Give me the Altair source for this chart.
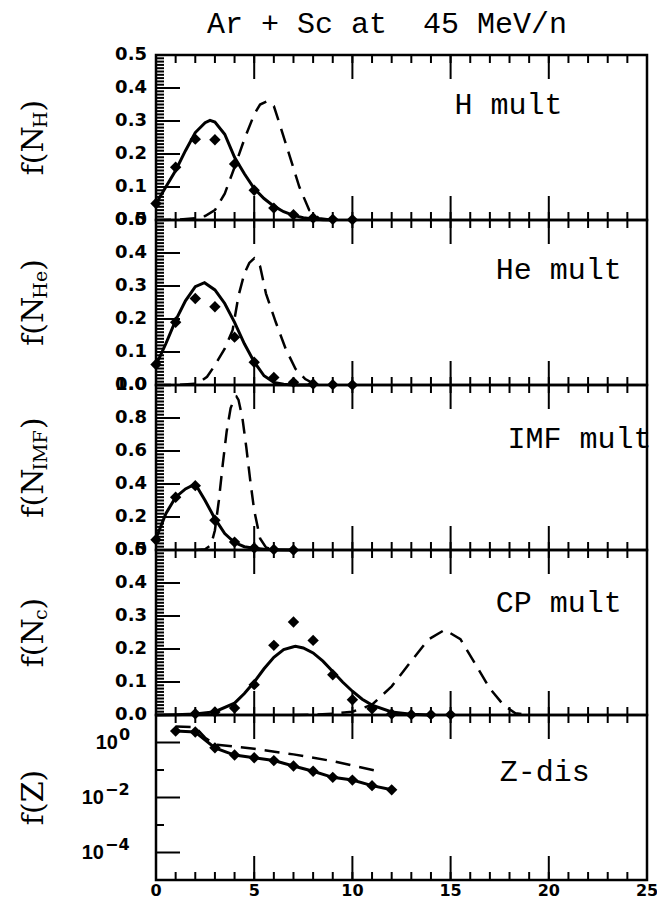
import altair as alt
import pandas as pd

W, H = 491, 165
XDOM = [0, 25]

# ---------------- data ----------------
# H multiplicity
H_PTS_X = [0, 1, 2, 3, 4, 5, 6, 7, 8, 9, 10]
H_PTS_Y = [0.05, 0.16, 0.245, 0.243, 0.17, 0.09, 0.036, 0.016, 0.006, 0.002, 0.001]
H_SOL_X = [0, 0.5, 1, 1.5, 2, 2.5, 2.75, 3, 3.5, 4, 4.5, 5, 5.5, 6, 6.5, 7, 7.5, 8, 8.5, 9]
H_SOL_Y = [0.05, 0.10, 0.15, 0.21, 0.265, 0.295, 0.302, 0.297, 0.26, 0.19, 0.14, 0.095,
           0.065, 0.042, 0.025, 0.014, 0.007, 0.003, 0.001, 0.0]
H_DSH_X = [0, 1, 2, 2.5, 3, 3.5, 4, 4.5, 5, 5.3, 5.65, 6, 6.3, 6.8, 7.3, 7.8, 8.3, 9]
H_DSH_Y = [0, 0.001, 0.005, 0.012, 0.03, 0.08, 0.16, 0.245, 0.32, 0.35, 0.36, 0.345,
           0.29, 0.195, 0.10, 0.03, 0.005, 0]

# He multiplicity
HE_PTS_X = [0, 1, 2, 3, 4, 5, 6, 7, 8, 9, 10]
HE_PTS_Y = [0.062, 0.19, 0.262, 0.237, 0.145, 0.069, 0.023, 0.008, 0.003, 0.001, 0.0]
HE_SOL_X = [0, 0.5, 1, 1.5, 2, 2.47, 3, 3.5, 4, 4.5, 5, 5.5, 6, 6.5, 7, 8]
HE_SOL_Y = [0.06, 0.125, 0.196, 0.255, 0.298, 0.31, 0.288, 0.247, 0.19, 0.125, 0.07,
            0.028, 0.008, 0.002, 0.0, 0.0]
HE_DSH_X = [0, 1, 2, 2.2, 2.6, 3, 3.5, 3.9, 4.2, 4.5, 4.75, 5.0, 5.3, 5.6, 6.1, 6.6,
            7.1, 7.6, 8, 8.5]
HE_DSH_Y = [0, 0, 0.004, 0.008, 0.025, 0.06, 0.11, 0.166, 0.27, 0.338, 0.37, 0.384,
            0.36, 0.277, 0.19, 0.11, 0.049, 0.018, 0.005, 0]

# IMF multiplicity
IMF_PTS_X = [0, 1, 2, 3, 4, 5, 6, 7]
IMF_PTS_Y = [0.062, 0.32, 0.39, 0.18, 0.048, 0.012, 0.003, 0.0]
IMF_SOL_X = [0, 0.5, 1, 1.5, 2, 2.5, 3, 3.5, 4, 4.5, 5, 5.5, 6, 7]
IMF_SOL_Y = [0.07, 0.22, 0.32, 0.37, 0.40, 0.30, 0.19, 0.10, 0.045, 0.02, 0.01, 0.004,
             0.002, 0.0]
IMF_DSH_X = [2, 2.5, 2.8, 3.0, 3.2, 3.4, 3.6, 3.8, 4.0, 4.1, 4.2, 4.4, 4.6, 4.8, 5.0,
             5.3, 5.6, 6, 7]
IMF_DSH_Y = [0, 0.005, 0.03, 0.12, 0.30, 0.52, 0.72, 0.86, 0.92, 0.93, 0.91, 0.80,
             0.62, 0.42, 0.24, 0.07, 0.015, 0, 0]

# charged-particle multiplicity
CP_PTS_X = [2, 3, 4, 5, 6, 7, 8, 9, 10, 11, 12, 13, 14, 15]
CP_PTS_Y = [0.004, 0.009, 0.021, 0.092, 0.211, 0.282, 0.226, 0.122, 0.046, 0.019,
            0.003, 0.001, 0.001, 0.001]
CP_SOL_X = [0, 1, 2, 3, 4, 4.5, 5, 5.5, 6, 6.5, 7, 7.1, 7.5, 8, 8.5, 9, 9.5, 10, 10.5,
            11, 12, 13, 14]
CP_SOL_Y = [0, 0.001, 0.003, 0.01, 0.036, 0.065, 0.10, 0.14, 0.175, 0.198, 0.207, 0.208,
            0.203, 0.188, 0.163, 0.132, 0.10, 0.072, 0.048, 0.03, 0.009, 0.002, 0]
CP_DSH_X = [7, 8, 9, 10, 11, 12, 12.85, 13.85, 14.7, 15.5, 16.3, 17, 17.7, 18.3, 19]
CP_DSH_Y = [0, 0.001, 0.004, 0.01, 0.031, 0.087, 0.152, 0.228, 0.258, 0.23, 0.15, 0.08,
            0.03, 0.005, 0]

# Z distribution (log)
Z_PTS_X = [1, 2, 3, 4, 5, 6, 7, 8, 9, 10, 11, 12]
Z_PTS_Y = [2.6, 2.4, 0.64, 0.35, 0.28, 0.22, 0.14, 0.09, 0.054, 0.043, 0.027, 0.019]
Z_DSH_X = [1, 2, 2.5, 3, 5, 7, 9, 11.5]
Z_DSH_Y = [3.8, 3.6, 1.5, 0.85, 0.59, 0.37, 0.21, 0.085]

TITLE = "Ar + Sc at \u00a045 MeV/n"
LABELS = ["H mult", "He mult", "IMF mult", "CP mult", "Z-dis"]
LABEL_X = [15.2, 17.3, 17.9, 17.3, 17.5]
LABEL_Y = [0.35, 0.348, 0.675, 0.34, 0.083]
YSUBS = ["H", "He", "IMF", "c", ""]

# tick positions and tick labels
X_MAJOR = [0, 5, 10, 15, 20, 25]
X_MINOR = list(range(0, 26))
X_LABELS = ["0", "5", "10", "15", "20", "25"]
HALF_VALS = [0.0, 0.1, 0.2, 0.3, 0.4, 0.5]
HALF_LABELS = ["0.0", "0.1", "0.2", "0.3", "0.4", "0.5"]
ONE_VALS = [0.0, 0.2, 0.4, 0.6, 0.8, 1.0]
ONE_LABELS = ["0.0", "0.2", "0.4", "0.6", "0.8", "1.0"]
LOG_MAJOR = [1, 0.01, 0.0001]
LOG_EXP = ["0", "\u22122", "\u22124"]
LOG_MINOR = [10, 0.1, 0.001, 0.00001]

LBL_FONT = "DejaVu Sans"
SERIF = "DejaVu Serif"
MONO = "Liberation Mono"


def frange(a, b, s):
    n = int(round((b - a) / s))
    return [round(a + i * s, 4) for i in range(n + 1)]


def ticks_layers(xs, ys, y_major, y_minor):
    def xt(vals, L, top):
        df = pd.DataFrame({"v": vals})
        if top:
            yy, yy2 = alt.value(0), alt.value(L)
        else:
            yy, yy2 = alt.value(H), alt.value(H - L)
        return alt.Chart(df).mark_rule(color="black", strokeWidth=2).encode(
            x=alt.X("v:Q", scale=xs, axis=None), y=yy, y2=yy2)

    def yt(vals, L):
        df = pd.DataFrame({"v": vals})
        return alt.Chart(df).mark_rule(color="black", strokeWidth=2).encode(
            y=alt.Y("v:Q", scale=ys, axis=None), x=alt.value(0), x2=alt.value(L))

    return [xt(X_MINOR, 8, True), xt(X_MAJOR, 24, True),
            xt(X_MINOR, 8, False), xt(X_MAJOR, 24, False),
            yt(y_minor, 8), yt(y_major, 24)]


def text_layer(t, size, font, xx, yy, angle=None, align="left", weight="normal"):
    kw = dict(align=align, baseline="alphabetic", font=font, fontSize=size,
              color="black", fontWeight=weight)
    if angle is not None:
        kw["angle"] = angle
    return alt.Chart(pd.DataFrame({"t": [t]})).mark_text(**kw).encode(
        text="t:N", x=alt.value(xx), y=alt.value(yy))


def ytitle(sub, main_size=30, sub_size=19):
    widths = {"H": 0.872, "e": 0.592, "I": 0.465, "M": 0.994, "F": 0.721, "c": 0.560}
    w_fN = (0.370 + 0.390 + 0.813) * main_size
    w_sub = sum(widths[c] for c in sub) * sub_size
    w_par = 0.390 * main_size
    total = w_fN + w_sub + w_par
    y0 = H / 2 + total / 2
    xb = -113
    return [text_layer("f(N", main_size, SERIF, xb, y0, 270),
            text_layer(sub, sub_size, SERIF, xb + 4, y0 - w_fN, 270),
            text_layer(")", main_size, SERIF, xb, y0 - w_fN - w_sub, 270)]


def ylabel_layer(vals, labels, ys):
    df = pd.DataFrame({"v": vals, "t": labels})
    return alt.Chart(df).mark_text(align="right", baseline="middle", font=LBL_FONT,
                                   fontWeight="bold", fontSize=18, color="black",
                                   dx=-9).encode(
        text="t:N", x=alt.value(0), y=alt.Y("v:Q", scale=ys, axis=None))


def panel(idx, px, py, sx, sy, dx, dy, ys, y_major, y_minor, ylabels, last=False):
    xs = alt.Scale(domain=XDOM, nice=False, zero=False)
    pts = pd.DataFrame({"x": px, "y": py})
    base = alt.Chart(pts).mark_point(shape="diamond", filled=True, size=130,
                                     color="black", opacity=1).encode(
        x=alt.X("x:Q", scale=xs, axis=None),
        y=alt.Y("y:Q", scale=ys, axis=None))
    layers = [base]
    layers.append(alt.Chart(pd.DataFrame({"x": sx, "y": sy})).mark_line(
        color="black", strokeWidth=3).encode(
        x=alt.X("x:Q", scale=xs, axis=None), y=alt.Y("y:Q", scale=ys, axis=None)))
    layers.append(alt.Chart(pd.DataFrame({"x": dx, "y": dy})).mark_line(
        color="black", strokeWidth=2.5, strokeDash=[15, 9]).encode(
        x=alt.X("x:Q", scale=xs, axis=None), y=alt.Y("y:Q", scale=ys, axis=None)))
    layers += ticks_layers(xs, ys, y_major, y_minor)
    lab = pd.DataFrame({"t": [LABELS[idx]], "x": [LABEL_X[idx]], "y": [LABEL_Y[idx]]})
    layers.append(alt.Chart(lab).mark_text(align="left", baseline="middle", font=MONO,
                                           fontSize=30, color="black").encode(
        text="t:N", x=alt.X("x:Q", scale=xs, axis=None),
        y=alt.Y("y:Q", scale=ys, axis=None)))
    if ylabels is not None:
        layers.append(ylabel_layer(y_major, ylabels, ys))
    else:
        # log labels: "10" with a superscript exponent
        for v, e in zip(LOG_MAJOR, LOG_EXP):
            xr = -38 if e == "0" else -52
            df = pd.DataFrame({"v": [v], "t": ["10"]})
            layers.append(alt.Chart(df).mark_text(
                align="right", baseline="middle", font="Liberation Sans",
                fontWeight="bold", fontSize=20, color="black", dy=0).encode(
                text="t:N", x=alt.value(xr), y=alt.Y("v:Q", scale=ys, axis=None)))
            df2 = pd.DataFrame({"v": [v], "t": [e]})
            layers.append(alt.Chart(df2).mark_text(
                align="left", baseline="middle", font=LBL_FONT,
                fontWeight="bold", fontSize=16, color="black", dy=-8, dx=1).encode(
                text="t:N", x=alt.value(xr), y=alt.Y("v:Q", scale=ys, axis=None)))
    if last:
        df = pd.DataFrame({"v": X_MAJOR, "t": X_LABELS})
        layers.append(alt.Chart(df).mark_text(
            align="center", baseline="alphabetic", font=LBL_FONT, fontWeight="bold",
            fontSize=16, color="black").encode(
            text="t:N", x=alt.X("v:Q", scale=xs, axis=None), y=alt.value(H + 16)))
    if YSUBS[idx]:
        layers += ytitle(YSUBS[idx])
    else:
        layers.append(text_layer("f(Z)", 30, SERIF, -113, H / 2, 270, "center"))
    if idx == 0:
        layers.append(text_layer(TITLE, 30, MONO, 231, -22, None, "center"))
    return alt.layer(*layers).properties(width=W, height=H)


half = dict(domain=[0, 0.5], nice=False, zero=False)
p1 = panel(0, H_PTS_X, H_PTS_Y, H_SOL_X, H_SOL_Y, H_DSH_X, H_DSH_Y,
           alt.Scale(**half), HALF_VALS, frange(0, 0.5, 0.01), HALF_LABELS)
p2 = panel(1, HE_PTS_X, HE_PTS_Y, HE_SOL_X, HE_SOL_Y, HE_DSH_X, HE_DSH_Y,
           alt.Scale(**half), HALF_VALS, frange(0, 0.5, 0.01), HALF_LABELS)
p3 = panel(2, IMF_PTS_X, IMF_PTS_Y, IMF_SOL_X, IMF_SOL_Y, IMF_DSH_X, IMF_DSH_Y,
           alt.Scale(domain=[0, 1.0], nice=False, zero=False),
           ONE_VALS, frange(0, 1.0, 0.02), ONE_LABELS)
p4 = panel(3, CP_PTS_X, CP_PTS_Y, CP_SOL_X, CP_SOL_Y, CP_DSH_X, CP_DSH_Y,
           alt.Scale(**half), HALF_VALS, frange(0, 0.5, 0.01), HALF_LABELS)
p5 = panel(4, Z_PTS_X, Z_PTS_Y, Z_PTS_X, Z_PTS_Y, Z_DSH_X, Z_DSH_Y,
           alt.Scale(type="log", domain=[0.00001, 10], nice=False),
           LOG_MAJOR, LOG_MINOR, None, last=True)

# fixed canvas: plot origin at (148, 47); svg = 649 wide (W + 158), 898 tall
chart = alt.vconcat(p1, p2, p3, p4, p5, spacing=0, bounds="flush").properties(
    background="white",
    autosize=alt.AutoSizeParams(type="none"),
    padding={"left": 148, "top": 47, "right": 10, "bottom": 851}
).configure_view(stroke="black", strokeWidth=2.5)

chart.save("out.html", embed_options={"renderer": "svg", "actions": False})
